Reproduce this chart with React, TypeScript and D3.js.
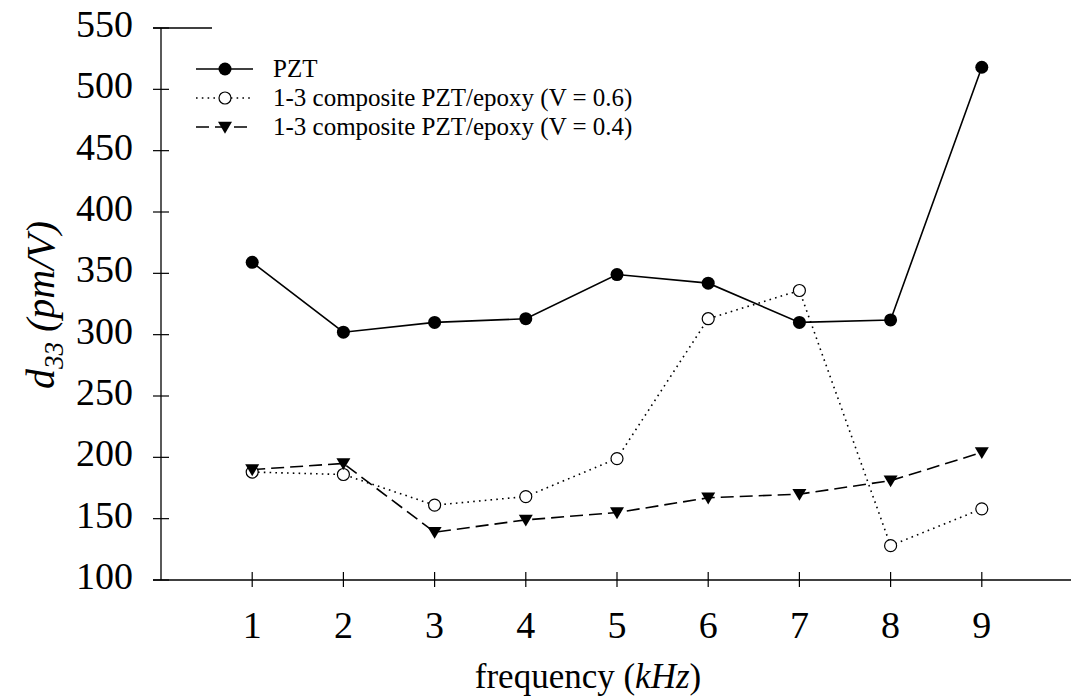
import React from "react";
import * as d3 from "d3";

// frequency in kHz
const frequencies = [1, 2, 3, 4, 5, 6, 7, 8, 9];
// d33 (pm/V) for each sample
const pztValues = [359, 302, 310, 313, 349, 342, 310, 312, 518];
const composite06Values = [188, 186, 161, 168, 199, 313, 336, 128, 158];
const composite04Values = [190, 195, 139, 149, 155, 167, 170, 181, 204];

const yTicks = [100, 150, 200, 250, 300, 350, 400, 450, 500, 550];
const xTicks = [1, 2, 3, 4, 5, 6, 7, 8, 9];

const seriesLabels = [
  "PZT",
  "1-3 composite PZT/epoxy (V = 0.6)",
  "1-3 composite PZT/epoxy (V = 0.4)",
];

const W = 1071;
const H = 700;
const FONT = "'Liberation Serif', 'Times New Roman', serif";

export default function App() {
  const x = d3.scaleLinear().domain([0, 10]).range([161, 1073]);
  const y = d3.scaleLinear().domain([100, 550]).range([580, 28]);

  const line = d3
    .line<[number, number]>()
    .x((d) => x(d[0]))
    .y((d) => y(d[1]));

  const pts = (vals: number[]) =>
    frequencies.map((f, i) => [f, vals[i]] as [number, number]);

  const tri = (cx: number, cy: number, s = 7) =>
    `M${cx - s},${cy - s * 0.75}L${cx + s},${cy - s * 0.75}L${cx},${cy + s * 0.95}Z`;

  const legendX0 = 196;
  const legendX1 = 253;
  const legendMid = 225;
  const legendText = 273;
  const legendRows = [69, 98, 127];

  return (
    <svg
      width={W}
      height={H}
      style={{ position: "absolute", left: 0, top: 0, background: "#fff" }}
      fontFamily={FONT}
    >
      {/* axes */}
      <line x1={x(0)} x2={x(0)} y1={y(550)} y2={y(100)} stroke="#000" strokeWidth={1.3} />
      <line x1={153} x2={W} y1={y(100)} y2={y(100)} stroke="#000" strokeWidth={1.3} />
      <line x1={153} x2={212} y1={y(550)} y2={y(550)} stroke="#000" strokeWidth={1.3} />

      {yTicks.map((t) => (
        <g key={"y" + t}>
          <line x1={153} x2={169} y1={y(t)} y2={y(t)} stroke="#000" strokeWidth={1.2} />
          <text x={133} y={y(t) + 9} textAnchor="end" fontSize={38} fill="#000">
            {t}
          </text>
        </g>
      ))}
      {xTicks.map((t) => (
        <g key={"x" + t}>
          <line x1={x(t)} x2={x(t)} y1={y(100) - 8} y2={y(100) + 7} stroke="#000" strokeWidth={1.2} />
          <text x={x(t)} y={638} textAnchor="middle" fontSize={38} fill="#000">
            {t}
          </text>
        </g>
      ))}

      {/* axis titles */}
      <text x={588} y={688} textAnchor="middle" fontSize={35} fill="#000">
        frequency (<tspan fontStyle="italic">kHz</tspan>)
      </text>
      <text
        transform="translate(54,305) rotate(-90)"
        textAnchor="middle"
        fontSize={40}
        fontStyle="italic"
        fill="#000"
      >
        d<tspan fontSize={27} dy={9}>33</tspan>
        <tspan dy={-9}> (pm/V)</tspan>
      </text>

      {/* series */}
      <path d={line(pts(composite06Values)) || ""} fill="none" stroke="#000" strokeWidth={1.6} strokeDasharray="1.6 4.2" />
      <path d={line(pts(composite04Values)) || ""} fill="none" stroke="#000" strokeWidth={1.6} strokeDasharray="13 6" />
      <path d={line(pts(pztValues)) || ""} fill="none" stroke="#000" strokeWidth={1.6} />

      {pts(pztValues).map(([f, v]) => (
        <circle key={"p" + f} cx={x(f)} cy={y(v)} r={6.5} fill="#000" />
      ))}
      {pts(composite06Values).map(([f, v]) => (
        <circle key={"c" + f} cx={x(f)} cy={y(v)} r={6} fill="#fff" stroke="#000" strokeWidth={1.2} />
      ))}
      {pts(composite04Values).map(([f, v]) => (
        <path key={"t" + f} d={tri(x(f), y(v))} fill="#000" />
      ))}

      {/* legend */}
      <line x1={legendX0} x2={legendX1} y1={legendRows[0]} y2={legendRows[0]} stroke="#000" strokeWidth={1.6} />
      <circle cx={legendMid} cy={legendRows[0]} r={6.5} fill="#000" />
      <line x1={legendX0} x2={legendX1} y1={legendRows[1]} y2={legendRows[1]} stroke="#000" strokeWidth={1.6} strokeDasharray="1.6 4.2" />
      <circle cx={legendMid} cy={legendRows[1]} r={6} fill="#fff" stroke="#000" strokeWidth={1.2} />
      <line x1={legendX0} x2={legendX1} y1={legendRows[2]} y2={legendRows[2]} stroke="#000" strokeWidth={1.6} strokeDasharray="13 6" />
      <path d={tri(legendMid, legendRows[2])} fill="#000" />
      {seriesLabels.map((s, i) => (
        <text key={s} x={legendText} y={legendRows[i] + 8} fontSize={25} fill="#000">
          {s}
        </text>
      ))}
    </svg>
  );
}
